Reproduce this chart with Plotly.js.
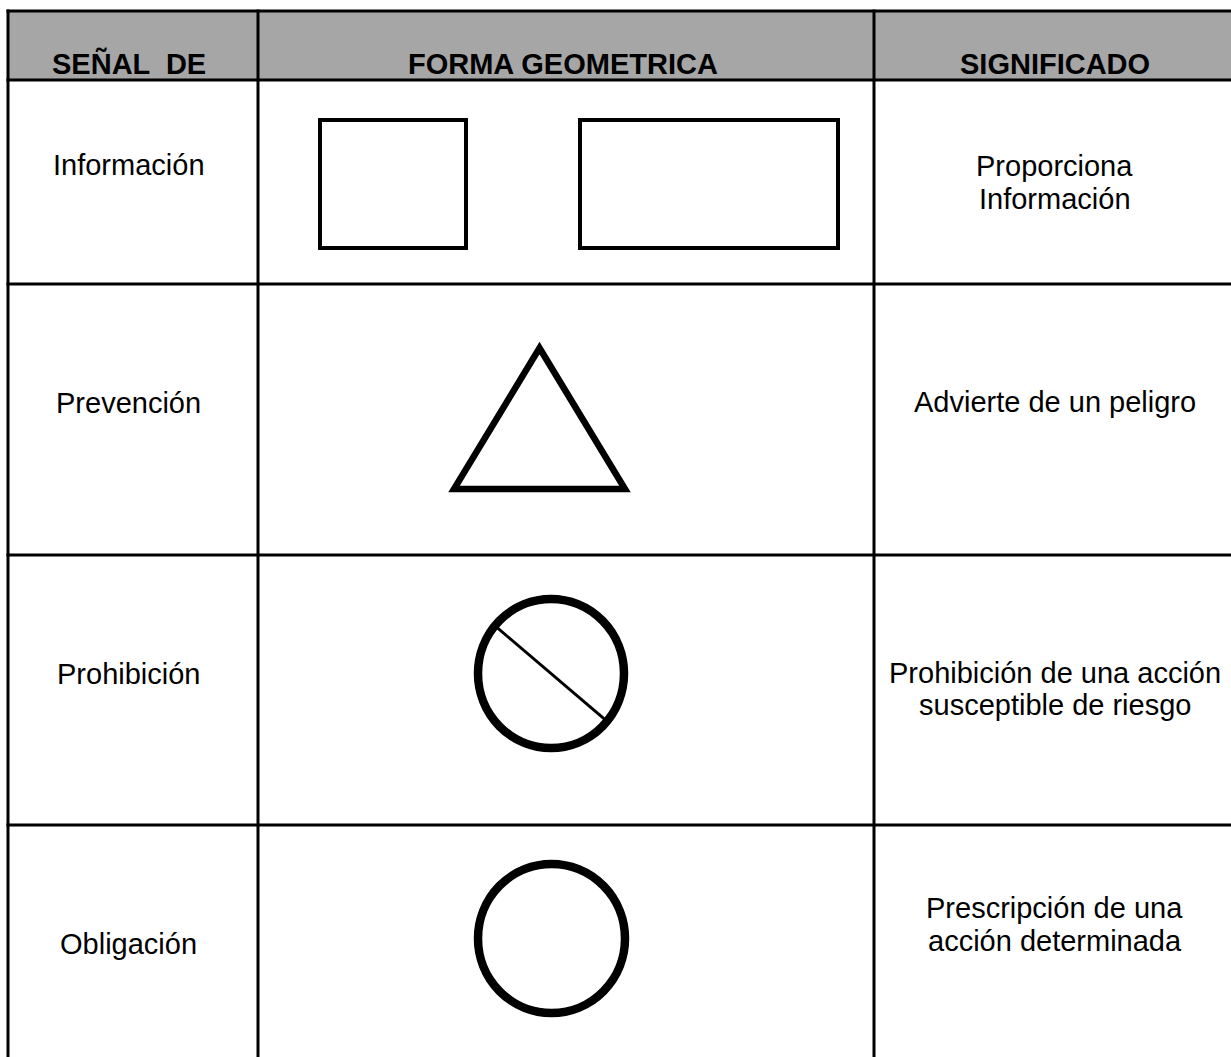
<!DOCTYPE html>
<html><head><meta charset="utf-8">
<script src="https://cdn.plot.ly/plotly-3.0.1.min.js"></script>
<style>html,body{margin:0;padding:0;background:#fff;overflow:hidden}</style>
</head><body>
<div id="chart" style="width:1231px;height:1057px"></div>
<script>
// ---- data ----
const headers = ['SEÑAL  DE', 'FORMA GEOMETRICA', 'SIGNIFICADO'];
const signalTypes = ['Información', 'Prevención', 'Prohibición', 'Obligación'];
const geometricForms = ['rectangles', 'triangle', 'circleSlash', 'circle'];
const meanings = [
  ['Proporciona', 'Información'],
  ['Advierte de un peligro'],
  ['Prohibición de una acción', 'susceptible de riesgo'],
  ['Prescripción de una', 'acción determinada']
];

// ---- layout geometry (pixel units) ----
const W = 1231, H = 1057;
const colEdges = [8, 258, 874, 1240];
const rowEdges = [11, 80, 284, 555, 825, 1070];
const textX = [128.5, 563, 1054.5];
const headerBaseline = 74;
const labelBaselines = [175, 413, 684, 954];
const meaningBaselines = [[176, 209], [412], [683, 715], [918, 951]];
const FONT = 'Liberation Sans, Arial, Helvetica, sans-serif';
const FS = 29;
const capMid = b => b - 0.36 * FS;

const shapes = [];
const annotations = [];

// header background
shapes.push({type: 'rect', xref: 'x', yref: 'y', x0: colEdges[0], x1: colEdges[3], y0: rowEdges[0], y1: rowEdges[1],
  fillcolor: '#a6a6a6', line: {width: 0}, layer: 'below'});

// grid lines
const gridLine = {color: '#000', width: 3};
rowEdges.slice(0, 5).forEach(y => shapes.push({type: 'line', xref: 'x', yref: 'y', x0: colEdges[0] - 1.5, x1: colEdges[3], y0: y, y1: y, line: gridLine}));
colEdges.slice(0, 3).forEach(x => shapes.push({type: 'line', xref: 'x', yref: 'y', x0: x, x1: x, y0: rowEdges[0] - 1.5, y1: rowEdges[5], line: gridLine}));

// headers
headers.forEach((h, i) => annotations.push({
  xref: 'x', yref: 'y', x: textX[i], y: capMid(headerBaseline), text: h, showarrow: false,
  xanchor: 'center', yanchor: 'middle', font: {family: FONT, size: FS, color: '#000', weight: 700}
}));

// signal type labels
signalTypes.forEach((s, i) => annotations.push({
  xref: 'x', yref: 'y', x: textX[0], y: capMid(labelBaselines[i]), text: s, showarrow: false,
  xanchor: 'center', yanchor: 'middle', font: {family: FONT, size: FS, color: '#000'}
}));

// meanings
meanings.forEach((lines, i) => lines.forEach((t, j) => annotations.push({
  xref: 'x', yref: 'y', x: textX[2], y: capMid(meaningBaselines[i][j]), text: t, showarrow: false,
  xanchor: 'center', yanchor: 'middle', font: {family: FONT, size: FS, color: '#000'}
})));

// geometric forms
function drawForm(kind) {
  const k = {color: '#000'};
  if (kind === 'rectangles') {
    shapes.push({type: 'rect', xref: 'x', yref: 'y', x0: 320, x1: 466, y0: 120, y1: 248, line: {color: '#000', width: 4}});
    shapes.push({type: 'rect', xref: 'x', yref: 'y', x0: 580, x1: 838, y0: 120, y1: 248, line: {color: '#000', width: 4}});
  } else if (kind === 'triangle') {
    shapes.push({type: 'path', xref: 'x', yref: 'y', path: 'M 539.5 348 L 625 489 L 454 489 Z', line: {color: '#000', width: 6.5}});
  } else if (kind === 'circleSlash') {
    const cx = 551, cy = 673.5, r = 73, a = 40.4 * Math.PI / 180;
    shapes.push({type: 'circle', xref: 'x', yref: 'y', x0: cx - r, x1: cx + r, y0: cy - 74.5, y1: cy + 74.5, line: {color: '#000', width: 8.5}});
    shapes.push({type: 'line', xref: 'x', yref: 'y', x0: cx - r * Math.cos(a), y0: cy - r * Math.sin(a), x1: cx + r * Math.cos(a), y1: cy + r * Math.sin(a), line: {color: '#000', width: 3}});
  } else if (kind === 'circle') {
    shapes.push({type: 'circle', xref: 'x', yref: 'y', x0: 478, x1: 625, y0: 864, y1: 1013, line: {color: '#000', width: 8.5}});
  }
}
geometricForms.forEach(drawForm);

const data = [{type: 'scatter', x: [], y: [], mode: 'markers', hoverinfo: 'skip', showlegend: false}];
const layout = {
  width: W, height: H, margin: {l: 0, r: 0, t: 0, b: 0, pad: 0},
  paper_bgcolor: '#fff', plot_bgcolor: '#fff', showlegend: false,
  xaxis: {range: [0, W], visible: false, fixedrange: true},
  yaxis: {range: [H, 0], visible: false, fixedrange: true},
  shapes, annotations
};
Plotly.newPlot('chart', data, layout, {staticPlot: true, displayModeBar: false});
</script>
</body></html>
